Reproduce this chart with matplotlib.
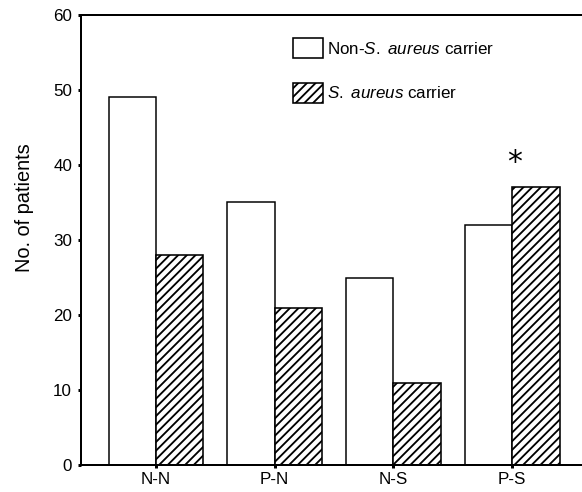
import numpy as np
import matplotlib
matplotlib.use("Agg")
import matplotlib.pyplot as plt
import matplotlib.patches as mpatches

groups = ["N-N", "P-N", "N-S", "P-S"]
non_carrier = [49, 35, 25, 32]
carrier = [28, 21, 11, 37]
y_ticks = [0, 10, 20, 30, 40, 50, 60]

DPI = 78
W, H = 582, 492

plt.rcParams['font.family'] = ['Liberation Sans', 'DejaVu Sans']
plt.rcParams['mathtext.fontset'] = 'custom'
plt.rcParams['mathtext.rm'] = 'Liberation Sans'
plt.rcParams['mathtext.it'] = 'Liberation Sans:italic'
plt.rcParams['hatch.linewidth'] = 1.7


def px(v):
    # pixels -> points
    return v * 72.0 / DPI


fig = plt.figure(figsize=(W / DPI, H / DPI), dpi=DPI)
# axes box in pixels: left 81, right beyond the edge, bottom 465, top 15
ax_left, ax_right, ax_top, ax_bottom = 81, 588, 15, 465
ax = fig.add_axes([ax_left / W, 1 - ax_bottom / H,
                   (ax_right - ax_left) / W, (ax_bottom - ax_top) / H])

x = np.arange(len(groups))
bw = 0.4
ax.bar(x - bw, non_carrier, width=bw, align='edge', facecolor='white',
       edgecolor='black', linewidth=px(1.5))
ax.bar(x, carrier, width=bw, align='edge', facecolor='white',
       edgecolor='black', linewidth=px(1.6), hatch='///')

unit = 118.7  # pixels per category
ax.set_xlim(-(156 - ax_left) / unit, -(156 - ax_left) / unit + (ax_right - ax_left) / unit)
ax.set_ylim(0, 60)
ax.set_xticks(x)
ax.set_xticklabels(groups)
ax.set_yticks(y_ticks)

for side in ['left', 'top', 'bottom']:
    ax.spines[side].set_linewidth(px(2))
ax.spines['right'].set_visible(False)
ax.tick_params(axis='both', direction='out', length=px(3), width=px(3),
               labelsize=px(17), colors='black')
ax.tick_params(axis='y', pad=px(6))
ax.tick_params(axis='x', pad=px(4))

fig.text(25 / W, 1 - 208 / H, "No. of patients", rotation=90,
         ha='center', va='center', fontsize=px(20))

ax.text(x[3] + 0.02, 40.3, "*", ha='center', va='center',
        fontsize=px(30), family='DejaVu Sans')

handles = [
    mpatches.Patch(facecolor='white', edgecolor='black', linewidth=px(1.6),
                   label=r'Non-$\mathit{S.\ aureus}$ carrier'),
    mpatches.Patch(facecolor='white', edgecolor='black', linewidth=px(1.6),
                   hatch='///', label=r'$\mathit{S.\ aureus}$ carrier'),
]
fs = 17
ax.legend(handles=handles, loc='upper left',
          bbox_to_anchor=(293 / W, 1 - 38 / H), bbox_transform=fig.transFigure,
          frameon=False, borderpad=0, borderaxespad=0,
          handlelength=30 / fs, handleheight=24 / fs, handletextpad=4 / fs,
          labelspacing=25 / fs, prop={'size': px(fs)})

fig.savefig("out.png", dpi=DPI)
